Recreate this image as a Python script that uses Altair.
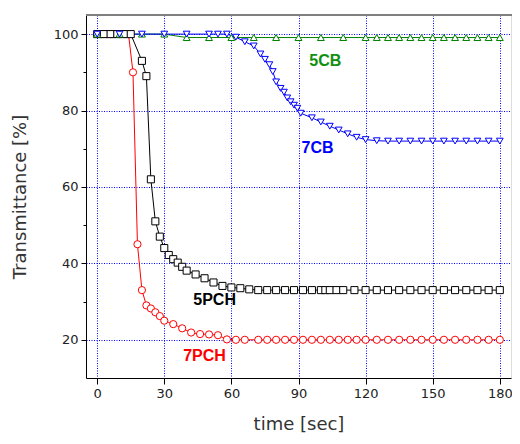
import altair as alt
import pandas as pd

# ---- data ----
t_7pch = [0, 2, 4, 6, 8, 10, 12, 14, 16, 18, 20, 22, 24, 26, 28, 30, 34, 38, 42, 46, 50, 54,
          58, 62, 66, 72, 76, 80, 84, 88, 92, 96, 100, 104, 108, 112, 116, 120,
          125, 130, 135, 140, 145, 150, 155, 160, 165, 170, 175, 180]
v_7pch = [100, 100, 100, 100, 100, 100, 100, 100, 90, 45, 33, 29, 28.2, 27.2, 26.2, 25, 24.1, 23, 21.9, 21.5, 21.4, 21.2,
          20.1, 20, 20, 20, 20, 20, 20, 20, 20, 20, 20, 20, 20, 20, 20, 20,
          20, 20, 20, 20, 20, 20, 20, 20, 20, 20, 20, 20]

t_5pch = [0, 3, 6, 9, 12, 15, 20, 22, 24, 26, 28, 30, 32, 34, 36, 38, 40, 44, 48, 52, 56, 60,
          64, 68, 72, 76, 80, 84, 88, 92, 96, 100, 102, 104, 107, 110, 115, 120,
          125, 130, 135, 140, 145, 150, 155, 160, 165, 170, 175, 180]
v_5pch = [100, 100, 100, 100, 100, 100, 93, 89, 62, 51, 47, 44, 42.2, 41.1, 40.2, 39.1, 38.1, 37.1, 36.1, 35, 34.1, 33.7,
          33.5, 33.2, 33, 33, 33, 33, 33, 33, 33, 33, 33, 33, 33, 33, 33, 33,
          33, 33, 33, 33, 33, 33, 33, 33, 33, 33, 33, 33]

t_5cb = [0, 10, 20, 30, 40, 50, 60, 70, 80, 90, 100, 110, 120,
         125, 130, 135, 140, 145, 150, 155, 160, 165, 170, 175, 180]
v_5cb = [100, 100, 100, 100, 99.1, 99.1, 99.1, 99.1, 99.1, 99.1, 99.1, 99.1, 99.1,
         99.1, 99.1, 99.1, 99.1, 99.1, 99.1, 99.1, 99.1, 99.1, 99.1, 99.1, 99.1]

t_7cb = [0, 10, 20, 30, 40, 50, 54, 58, 62, 66, 70, 73, 75, 77, 78.5, 80, 82, 83.5, 85, 86.5, 88, 89.5,
         91, 96, 100, 104, 108, 112, 116, 120, 125, 130, 135, 140, 145, 150, 155, 160, 165, 170, 175, 180]
v_7cb = [100, 100, 100, 100, 100, 100, 100, 100, 99.2, 98, 96.9, 94.8, 93.4, 92, 90.2, 87.5, 85.8, 84.8, 83.3, 82.3, 81.4, 80.6,
         79.3, 78.1, 77, 75.9, 74.9, 73.9, 73, 72.4, 72.1, 72, 72, 72, 72, 72, 72, 72, 72, 72, 72, 72]

series_names = ["7PCH", "5PCH", "5CB", "7CB"]
series_colors = ["#ff0000", "#000000", "#008000", "#0000ff"]
series_shapes = ["circle", "square", "triangle-up", "triangle-down"]

label_text = ["5CB", "7CB", "5PCH", "7PCH"]
label_t = [102, 98.5, 52.5, 48]
label_v = [93, 70.2, 30.4, 15.8]
label_color = ["#109010", "#0000ff", "#000000", "#ff0000"]

x_ticks = [0, 15, 30, 45, 60, 75, 90, 105, 120, 135, 150, 165, 180]
y_ticks = [20, 30, 40, 50, 60, 70, 80, 90, 100]

rows = []
for name, ts, vs in zip(series_names, [t_7pch, t_5pch, t_5cb, t_7cb], [v_7pch, v_5pch, v_5cb, v_7cb]):
    for t, v in zip(ts, vs):
        rows.append({"series": name, "t": t, "v": v})
df = pd.DataFrame(rows)
labels = pd.DataFrame({"text": label_text, "t": label_t, "v": label_v, "c": label_color})

W, H = 425, 363
FONT = "DejaVu Sans"

xaxis = alt.Axis(
    values=x_ticks, title="time [sec]",
    labelExpr="datum.value % 30 == 0 ? datum.label : ''",
    tickSize={"condition": {"test": "datum.value % 30 == 0", "value": 6}, "value": 3},
    grid=True, gridColor="#0000ff", gridDash=[1, 1.5], gridWidth=1,
    gridOpacity={"condition": {"test": "datum.value % 30 == 0", "value": 1}, "value": 0},
    domainColor="#000000", tickColor="#000000", labelColor="#222222",
    labelFont=FONT, labelFontSize=13, labelPadding=3, labelOverlap=False, labelFlush=False,
    titleFont=FONT, titleFontSize=18, titleFontWeight="normal", titleColor="#333333", titlePadding=15,
)
yaxis = alt.Axis(
    values=y_ticks, title="Transmittance [%]",
    labelExpr="datum.value % 20 == 0 ? datum.label : ''",
    tickSize={"condition": {"test": "datum.value % 20 == 0", "value": 5}, "value": 3},
    grid=True, gridColor="#0000ff", gridDash=[1, 1.5], gridWidth=1,
    gridOpacity={"condition": {"test": "datum.value % 20 == 0", "value": 1}, "value": 0},
    domainColor="#000000", tickColor="#000000", labelColor="#222222",
    labelFont=FONT, labelFontSize=13, labelPadding=3, labelOverlap=False, labelFlush=False,
    titleFont=FONT, titleFontSize=18, titleFontWeight="normal", titleColor="#333333", titlePadding=24,
)

xs = alt.Scale(domain=[-5, 185], nice=False, zero=False)
ys = alt.Scale(domain=[10, 105], nice=False, zero=False)
cs = alt.Scale(domain=series_names, range=series_colors)
ss = alt.Scale(domain=series_names, range=series_shapes)

base = alt.Chart(df)

lines = base.mark_line(strokeWidth=1).encode(
    x=alt.X("t:Q", scale=xs, axis=xaxis),
    y=alt.Y("v:Q", scale=ys, axis=yaxis),
    color=alt.Color("series:N", scale=cs, legend=None),
)

points = base.mark_point(filled=False, fill="white", fillOpacity=1, opacity=1, strokeWidth=1).encode(
    x=alt.X("t:Q", scale=xs),
    y=alt.Y("v:Q", scale=ys),
    color=alt.Color("series:N", scale=cs, legend=None),
    shape=alt.Shape("series:N", scale=ss, legend=None),
    size=alt.Size("series:N", scale=alt.Scale(domain=series_names, range=[52, 45, 64, 64]), legend=None),
)

texts = alt.Chart(labels).mark_text(font="Liberation Sans", fontSize=16, fontWeight="bold").encode(
    x=alt.X("t:Q", scale=xs),
    y=alt.Y("v:Q", scale=ys),
    text="text:N",
    color=alt.Color("c:N", scale=None),
)

top = alt.Chart(labels).mark_rule(color="#808080", strokeWidth=2).encode(
    x=alt.value(0), x2=alt.value(W + 1), y=alt.value(0)
)

chart = alt.layer(lines, points, texts, top).properties(
    width=W, height=H,
    autosize=alt.AutoSizeParams(type="none"),
    padding={"left": 78, "top": 7, "right": 1, "bottom": 58},
).configure_view(stroke=None).configure(background="white")

chart.save("out.html", embed_options={"renderer": "svg", "actions": False})
